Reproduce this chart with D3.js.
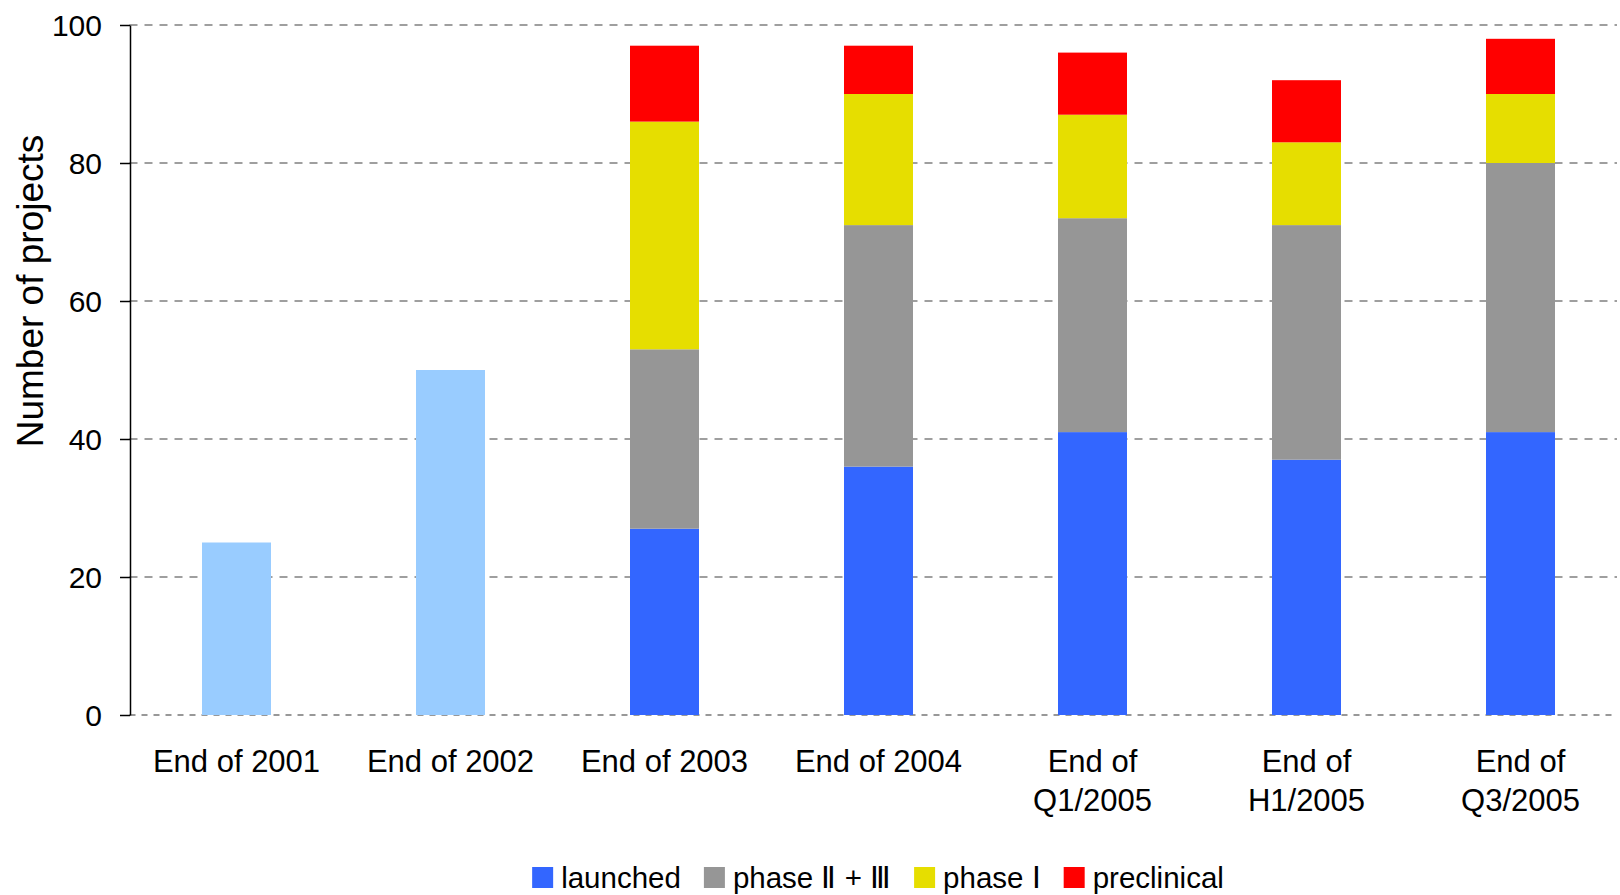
<!DOCTYPE html>
<html>
<head>
<meta charset="utf-8">
<script src="https://cdn.jsdelivr.net/npm/d3@7"></script>
<style>
  html, body { margin: 0; padding: 0; background: #fff; }
  svg { display: block; }
  text { font-family: "Liberation Sans", Arial, sans-serif; fill: #000; }
</style>
</head>
<body>
<svg id="chart" width="1620" height="895"></svg>
<script>
// ---------- data ----------
const categories = ["End of 2001", "End of 2002", "End of 2003", "End of 2004", "End of Q1/2005", "End of H1/2005", "End of Q3/2005"];
const categoryLines = [["End of 2001"], ["End of 2002"], ["End of 2003"], ["End of 2004"], ["End of", "Q1/2005"], ["End of", "H1/2005"], ["End of", "Q3/2005"]];
const earlyTotal = [25, 50, null, null, null, null, null];
const launched    = [null, null, 27, 36, 41, 37, 41];
const phase23     = [null, null, 26, 35, 31, 34, 39];
const phase1      = [null, null, 33, 19, 15, 12, 10];
const preclinical = [null, null, 11, 7, 9, 9, 8];
const seriesNames = ["launched", "phase \u2161 + \u2162", "phase \u2160", "preclinical"];
const seriesKeys = ["launched", "phase23", "phase1", "preclinical"];
const seriesColors = ["#3366FF", "#969696", "#E6DE00", "#FF0000"];
const earlyColor = "#99CCFF";
const yTicks = [0, 20, 40, 60, 80, 100];

// ---------- layout ----------
const svg = d3.select("#chart");
const plotLeft = 129.5, plotTop = 25, plotBottom = 715, bandEnd = 1627.5, gridRight = 1617;

const x = d3.scaleBand().domain(categories).range([plotLeft, bandEnd])
  .paddingInner(0.6776).paddingOuter(0.3388);
const y = d3.scaleLinear().domain([0, 100]).range([plotBottom, plotTop]);

// gridlines
svg.append("g").selectAll("line").data(yTicks.filter(t => t > 0)).join("line")
  .attr("x1", plotLeft).attr("x2", gridRight)
  .attr("y1", d => y(d)).attr("y2", d => y(d))
  .attr("stroke", "#808080").attr("stroke-width", 1.6)
  .attr("stroke-dasharray", "8,7");
// zero line
svg.append("line")
  .attr("x1", plotLeft).attr("x2", gridRight)
  .attr("y1", y(0)).attr("y2", y(0))
  .attr("stroke", "#333").attr("stroke-width", 1.2)
  .attr("stroke-dasharray", "6,6");

// stacked data
const rows = categories.map((c, i) => ({
  cat: c,
  launched: launched[i] || 0,
  phase23: phase23[i] || 0,
  phase1: phase1[i] || 0,
  preclinical: preclinical[i] || 0
}));
const stacked = d3.stack().keys(seriesKeys)(rows);

// early bars
svg.append("g").selectAll("rect")
  .data(categories.map((c, i) => ({ cat: c, v: earlyTotal[i] })).filter(d => d.v != null))
  .join("rect")
  .attr("x", d => x(d.cat)).attr("width", x.bandwidth())
  .attr("y", d => y(d.v)).attr("height", d => y(0) - y(d.v))
  .attr("fill", earlyColor);

// stacked bars
svg.append("g").selectAll("g").data(stacked).join("g")
  .attr("fill", (d, i) => seriesColors[i])
  .selectAll("rect").data(d => d.filter(s => s[1] - s[0] > 0)).join("rect")
  .attr("x", d => x(d.data.cat)).attr("width", x.bandwidth())
  .attr("y", d => y(d[1])).attr("height", d => y(d[0]) - y(d[1]));

// y axis
const yAxis = d3.axisLeft(y).tickValues(yTicks).tickSize(10).tickPadding(18).tickSizeOuter(0);
const gy = svg.append("g").attr("transform", `translate(${plotLeft + 0.5},0)`).call(yAxis);
gy.select(".domain").attr("stroke", "#000").attr("stroke-width", 1.5);
gy.selectAll(".tick line").attr("stroke", "#000").attr("stroke-width", 1.5);
gy.selectAll(".tick text").style("font-size", "30px").style("font-family", "Liberation Sans, Arial, sans-serif")
  .attr("dy", "0.36em");

// x category labels
const xl = svg.append("g");
categories.forEach((c, i) => {
  const t = xl.append("text")
    .attr("x", x(c) + x.bandwidth() / 2)
    .attr("y", 772)
    .attr("text-anchor", "middle")
    .style("font-size", "31px");
  categoryLines[i].forEach((ln, j) => {
    t.append("tspan").attr("x", x(c) + x.bandwidth() / 2).attr("dy", j === 0 ? 0 : 39).text(ln);
  });
});

// y title
svg.append("text")
  .attr("transform", "translate(43,291) rotate(-90)")
  .attr("text-anchor", "middle")
  .style("font-size", "37px")
  .text("Number of projects");

// legend
const lg = svg.append("g");
let cx = 0;
seriesNames.forEach((name, i) => {
  const g = lg.append("g").attr("transform", `translate(${cx},0)`);
  g.append("rect").attr("x", 0).attr("y", 867).attr("width", 21).attr("height", 21).attr("fill", seriesColors[i]);
  const t = g.append("text").attr("x", 29).attr("y", 888).style("font-size", "29.5px").text(name);
  const w = t.node().getComputedTextLength();
  cx += 29 + w + 23;
});
const totalW = cx - 23;
lg.attr("transform", `translate(${878 - totalW / 2},0)`);
</script>
</body>
</html>
